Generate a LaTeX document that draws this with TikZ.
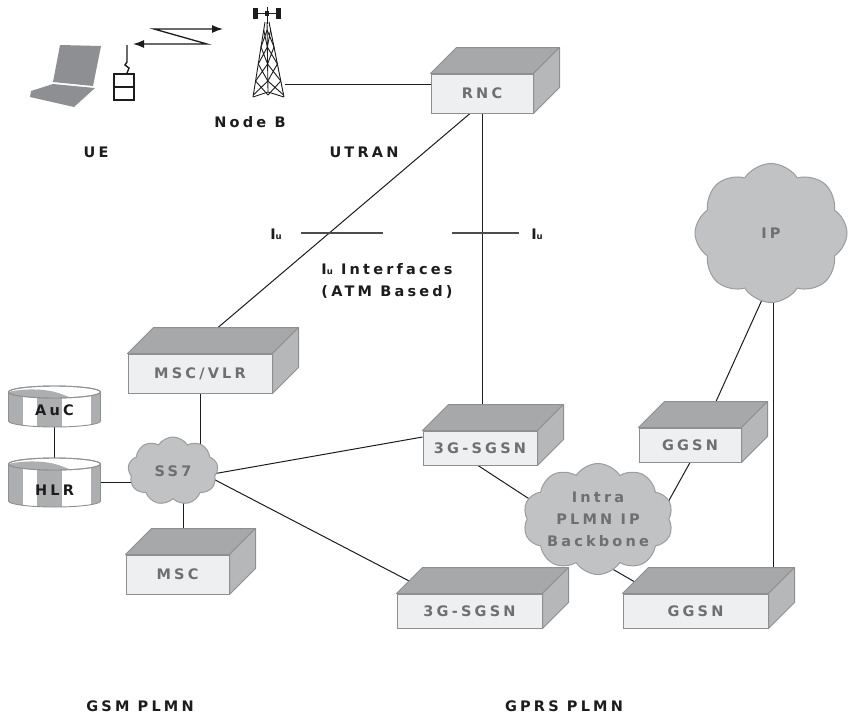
\documentclass[tikz,border=0pt]{standalone}
\usepackage{fontspec}
\newfontfamily\netfont{DejaVu Sans}[LetterSpace=22]
\usetikzlibrary{shapes.symbols,backgrounds,arrows.meta}

\definecolor{boxfront}{HTML}{EEEFF0}
\definecolor{boxtop}{HTML}{A7A8AA}
\definecolor{boxside}{HTML}{B6B7B9}
\definecolor{boxedge}{HTML}{8E8F91}
\definecolor{boxtext}{HTML}{6E6F71}
\definecolor{cloudfill}{HTML}{C1C2C4}
\definecolor{cloudedge}{HTML}{9B9C9E}
\definecolor{diskgray}{HTML}{ADAEB0}
\definecolor{inkblack}{HTML}{1C1C1C}
\definecolor{laptopgray}{HTML}{8E8F92}

\newcommand{\netsize}{\fontsize{14.5}{17}\selectfont}
\newcommand{\Iu}{I{\fontsize{8.5}{8.5}\selectfont u}}

\tikzset{
  netbox/.style={rectangle, draw=boxedge, fill=boxfront, line width=1pt,
    inner sep=0pt, text=boxtext},
  boxface/.style={draw=boxedge, line width=1pt, line join=round},
  netcloud/.style={cloud, cloud puffs=#1, cloud puff arc=115, cloud ignores aspect,
    draw=cloudedge, fill=cloudfill, line width=1pt, inner sep=0pt,
    text=boxtext, align=center},
  netcloud/.default=10,
  link/.style={draw=inkblack, line width=1pt},
  iuline/.style={draw=black!70, line width=1.2pt},
  disklabel/.style={text=inkblack, inner sep=0pt},
}

% 3D box: name, x, y, width, height, text
\newcommand{\netbox}[6]{%
  \node[netbox, minimum width=#4pt, minimum height=#5pt] (#1) at (#2,-#3) {#6};
  \filldraw[boxface, fill=boxtop] (#1.north west) -- ++(26,26)
    -- ([shift={(26pt,26pt)}]#1.north east) -- (#1.north east) -- cycle;
  \filldraw[boxface, fill=boxside] (#1.north east) -- ++(26,26)
    -- ([shift={(26pt,26pt)}]#1.south east) -- (#1.south east) -- cycle;
}

% database disk: name, text, centre x, top y, bottom y
\newcommand{\dbdisk}[5]{%
  \fill[diskgray] (#3-46,-#4) -- (#3-46,-#5) arc (180:360:46 and 6) -- (#3+46,-#4) -- cycle;
  \begin{scope}
    \clip (#3-46,-#4) -- (#3-46,-#5) arc (180:360:46 and 6) -- (#3+46,-#4) -- cycle;
    \fill[white] (#3-31.5,-#4) rectangle (#3-17.5,-#5-8);
    \fill[white] (#3+7.5,-#4) rectangle (#3+36.5,-#5-8);
  \end{scope}
  \draw[boxedge, line width=0.9pt] (#3-46,-#4) -- (#3-46,-#5) arc (180:360:46 and 6) -- (#3+46,-#4);
  \filldraw[fill=white, draw=boxedge, line width=0.9pt] (#3,-#4) ellipse (46 and 6);
  \begin{scope}
    \clip (#3,-#4) ellipse (46 and 6);
    \fill[diskgray] (#3-46,-#4) .. controls (#3-30,-#4+4) and (#3-8,-#4+3) .. (#3+4,-#4-1)
      .. controls (#3+12,-#4-4) .. (#3+20,-#4-7) -- (#3-46,-#4-7) -- cycle;
  \end{scope}
  \draw[boxedge, line width=0.9pt] (#3,-#4) ellipse (46 and 6);
  \node[disklabel] (#1) at (#3,-#5+11) {#2};
  \coordinate (#1-port) at (#3+46,-#4/2-#5/2);
}

\begin{document}
\begin{tikzpicture}[x=1pt, y=1pt, font=\netfont\bfseries\netsize, text=inkblack]
\useasboundingbox (0,0) rectangle (848,-716);

% UE: laptop and handset
\fill[laptopgray] (60,-45) -- (101,-46) -- (93,-86) -- (53,-82) -- cycle;
\fill[laptopgray] (31,-91) -- (53,-84) -- (95,-88) -- (74,-107) -- (30,-97) -- cycle;
\draw[inkblack, line width=1.4pt] (127,-45) -- (127,-62) -- (125,-65) -- (129,-68) -- (127,-73);
\draw[inkblack, line width=1.4pt] (114,-74) rectangle (134,-100) (114,-87) -- (134,-87);

% radio link
\draw[inkblack, line width=1.3pt, {Latex[length=11pt,width=8pt]}-{Latex[length=11pt,width=8pt]}]
  (133,-44) -- (207,-44) -- (154,-29) -- (223,-29);

% Node B mast
\begin{scope}[inkblack, line width=0.9pt]
  \draw (267,-7) -- (267,-24);
  \draw (255,-13) -- (279,-13);
  \fill (253,-8) rectangle (258,-19);
  \fill (276,-8) rectangle (281,-19);
  \fill (265,-11) rectangle (269,-16);
  \draw (265,-22) -- (253,-97) (269,-22) -- (284,-97) (267,-22) -- (268,-92);
  \draw (253,-97) -- (268,-92) -- (284,-97);
  \foreach \ya/\yb in {30/47,47/64,64/81,81/95} {
    \pgfmathsetmacro\la{265-12*(\ya-22)/75}
    \pgfmathsetmacro\lb{265-12*(\yb-22)/75}
    \pgfmathsetmacro\ca{267+(\ya-22)/75}
    \pgfmathsetmacro\cb{267+(\yb-22)/75}
    \pgfmathsetmacro\ra{269+15*(\ya-22)/75}
    \pgfmathsetmacro\rb{269+15*(\yb-22)/75}
    \draw (\la,-\ya) -- (\cb,-\yb) (\ca,-\ya) -- (\lb,-\yb);
    \draw (\ra,-\ya) -- (\cb,-\yb) (\ca,-\ya) -- (\rb,-\yb);
  }
\end{scope}
\coordinate (nodeb) at (285,-84);

% network elements
\netbox{rnc}{482}{93.5}{102}{39}{RNC}
\netbox{mscvlr}{200}{373.5}{144}{39}{MSC/VLR}
\netbox{msc}{177.5}{574.5}{103}{39}{MSC}
\netbox{sgsna}{480}{448}{114}{34}{3G-SGSN}
\netbox{ggsna}{690}{445}{102}{34}{GGSN}
\netbox{sgsnb}{469.5}{611}{145}{34}{3G-SGSN}
\netbox{ggsnb}{695.5}{611}{145}{34}{GGSN}

\dbdisk{auc}{AuC}{54.5}{392}{421}
\dbdisk{hlr}{HLR}{54.5}{464}{501}

\node[netcloud=9, minimum width=90pt, minimum height=68pt] (ss7) at (173,-471) {SS7};
\node[netcloud=10, minimum width=140pt, minimum height=111pt, font=\netfont\bfseries\fontsize{14.5}{22}\selectfont]
  (backbone) at (598,-519) {Intra\\PLMN IP\\Backbone};
\node[netcloud=8, minimum width=152pt, minimum height=139pt] (ip) at (771,-233) {IP};

% links
\begin{scope}[on background layer]
  \draw[link] (nodeb) -- (nodeb -| rnc.center);
  \draw[link] ([xshift=-12pt]rnc.south) -- ([shift={(18pt,26pt)}]mscvlr.north);
  \draw[link] (rnc.south) -- ([shift={(2pt,26pt)}]sgsna.north);
  \draw[link] (mscvlr) -- (mscvlr |- ss7);
  \draw[link] (auc) -- (hlr);
  \draw[link] (hlr-port) -- (hlr-port -| ss7);
  \draw[link] (msc.north) ++(5.5,0) coordinate (msc-port) -- (msc-port |- ss7);
  \draw[link] ([yshift=-10pt]ss7.center) -- ([yshift=11pt]sgsna.west);
  \draw[link] ([yshift=13pt]ss7.center) -- ([shift={(-57.5pt,11pt)}]sgsnb.north);
  \draw[link] ([xshift=-2pt]sgsna.south) -- ([shift={(-38pt,0pt)}]backbone.center);
  \draw[link] (ggsna.south) -- ([shift={(59pt,-3pt)}]backbone.center);
  \draw[link] ([shift={(-8pt,-37pt)}]backbone.center) -- ([shift={(-61.5pt,12pt)}]ggsnb.north);
  \draw[link] ([shift={(9pt,-27pt)}]ip.center) -- ([shift={(26pt,26pt)}]ggsna.north);
  \draw[link] ([xshift=2pt]ip.center) -- ([shift={(77.5pt,22pt)}]ggsnb.north);
\end{scope}

% Iu interface marks
\draw[iuline] (301,-233) -- (383,-233);
\draw[iuline] (452,-233) -- (519,-233);
\node (iu-left) at (276,-234) {\Iu};
\node (iu-right) at (537,-234) {\Iu};
\node[align=center, font=\netfont\bfseries\fontsize{14.5}{22}\selectfont] (iu-note) at (387,-281)
  {\Iu{} Interfaces\\(ATM Based)};

% domain labels
\node (nodeb-label) at (250,-122) {Node B};
\node (ue-label) at (96,-152) {UE};
\node (utran-label) at (364,-152) {UTRAN};
\node (gsm-label) at (140,-706) {GSM PLMN};
\node (gprs-label) at (564,-706) {GPRS PLMN};
\end{tikzpicture}
\end{document}
